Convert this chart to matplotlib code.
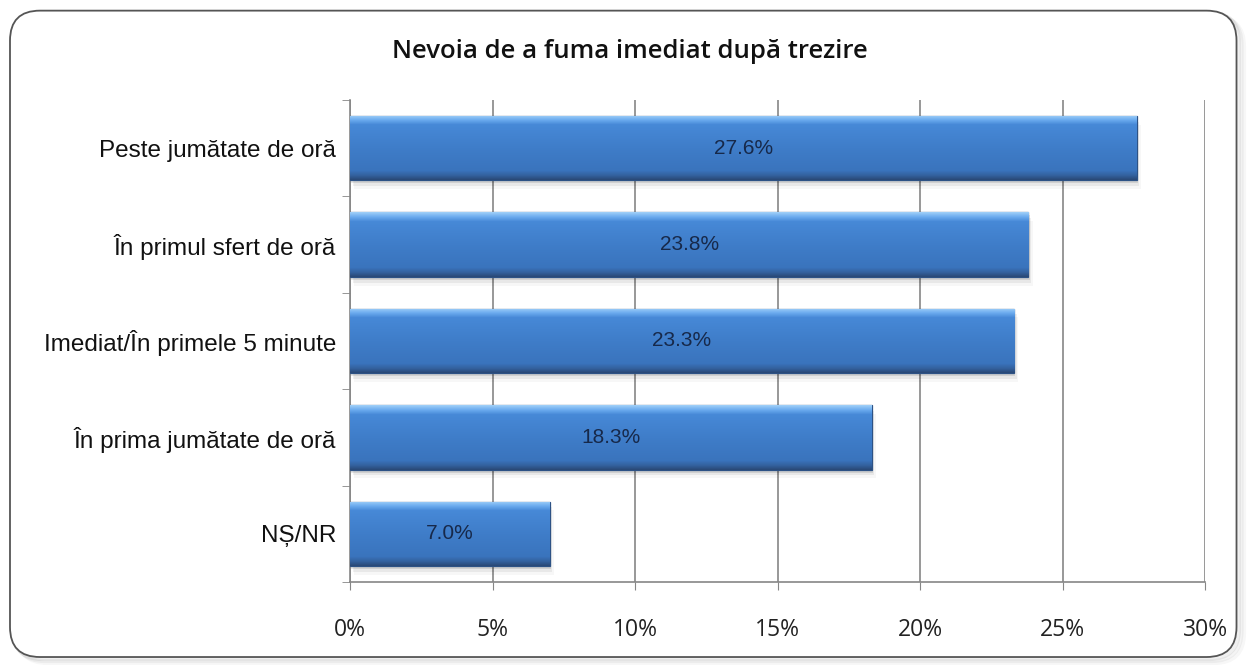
import numpy as np
import matplotlib.pyplot as plt
from matplotlib.patches import FancyBboxPatch
from matplotlib.colors import LinearSegmentedColormap

categories = ["Peste jumătate de oră", "În primul sfert de oră", "Imediat/În primele 5 minute",
              "În prima jumătate de oră", "NȘ/NR"]
values = [27.6, 23.8, 23.3, 18.3, 7.0]
xticks = [0, 5, 10, 15, 20, 25, 30]

fig = plt.figure(figsize=(12.49, 6.65), dpi=100)

# rounded frame with soft shadow
box = dict(boxstyle="round,pad=0,rounding_size=0.024", transform=fig.transFigure, mutation_aspect=1.88)
for i, a in enumerate([0.06, 0.045, 0.03]):
    fig.patches.append(FancyBboxPatch((0.008 + 0.002 * (i + 1), 0.012 - 0.003 * (i + 1)), 0.982, 0.972,
                                      facecolor="none", edgecolor=(0, 0, 0, a), lw=3, zorder=-2, **box))
fig.patches.append(FancyBboxPatch((0.008, 0.012), 0.982, 0.972,
                                  facecolor="white", edgecolor="#555555", lw=1.3, zorder=-1, **box))

ax = fig.add_axes([350 / 1249, 1 - 582 / 665, 855 / 1249, 482 / 665])
ax.set_facecolor("none")
ax.set_zorder(2)

n = len(categories)
y = np.arange(n)[::-1]
bars = ax.barh(y, values, height=0.67, color="#3f7fcf", edgecolor="#2d5285", lw=0.9, zorder=3)

# vertical gradient inside each bar (light top strip, flat body, dark bottom)
cmap = LinearSegmentedColormap.from_list(
    "bar", [(0.0, "#9ccdf7"), (0.07, "#6aaaee"), (0.14, "#4789d7"), (0.5, "#3f7dc9"),
            (0.86, "#3a74bd"), (0.94, "#33609c"), (1.0, "#2a4a78")])
grad = np.linspace(0, 1, 64).reshape(-1, 1)
for b in bars:
    x0, y0, w, h = b.get_x(), b.get_y(), b.get_width(), b.get_height()
    im = ax.imshow(grad, cmap=cmap, aspect="auto", extent=(x0, x0 + w, y0, y0 + h),
                   origin="upper", zorder=3, interpolation="bilinear")
    im.set_clip_path(b)
    # soft shadow
    for k, a in enumerate([0.10, 0.06, 0.03]):
        ax.add_patch(plt.Rectangle((x0 + 0.05 * (k + 1), y0 - 0.03 * (k + 1)), w, h,
                                   facecolor=(0, 0, 0, a), edgecolor="none", zorder=2))
    ax.text(x0 + w / 2, y0 + h / 2, f"{w:.1f}%", ha="center", va="center",
            fontsize=15, color="#17294a", family="Liberation Sans", zorder=5)

ax.set_xlim(0, 30)
ax.set_ylim(-0.5, n - 0.5)
ax.set_xticks(xticks)
ax.set_xticklabels([f"{t}%" for t in xticks], fontsize=16.5, family="Open Sans", color="#222222")
ax.set_yticks(y)
ax.set_yticklabels(categories, fontsize=17.5, family="Liberation Sans", color="#111111")
ax.set_yticks(np.arange(-0.5, n, 1.0), minor=True)
ax.tick_params(axis="y", which="major", length=0, pad=10)
ax.tick_params(axis="y", which="minor", length=6, color="#868686", direction="out")
ax.tick_params(axis="x", length=6, color="#868686", pad=20)
ax.grid(axis="x", color="#868686", lw=1.2, zorder=0)
for s in ["top", "right"]:
    ax.spines[s].set_visible(False)
for s in ["left", "bottom"]:
    ax.spines[s].set_color("#868686")
    ax.spines[s].set_linewidth(1.2)

fig.text(630 / 1249, 1 - 52 / 665, "Nevoia de a fuma imediat după trezire", ha="center", va="center",
         fontsize=18.5, fontweight="semibold", family="Open Sans", color="#111111")

fig.savefig("out.png", dpi=100)
